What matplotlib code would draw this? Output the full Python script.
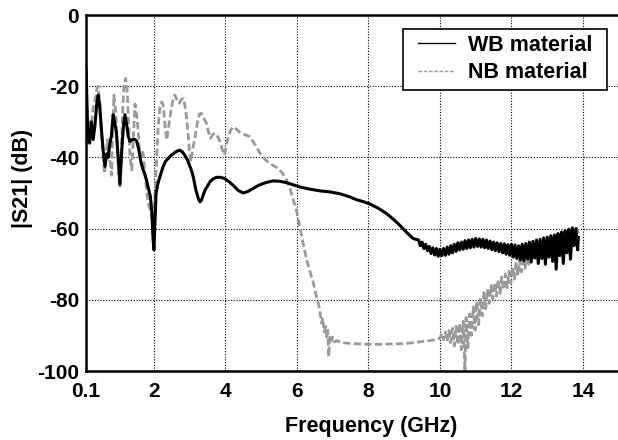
import matplotlib
matplotlib.use("Agg")
from matplotlib import pyplot as plt
from matplotlib.patches import Rectangle

plt.rcParams['font.family'] = ['Liberation Sans', 'DejaVu Sans']
plt.rcParams['font.weight'] = 'bold'
plt.rcParams['axes.unicode_minus'] = False

# WB material (black, solid)
wb_f = [0.10, 0.12, 0.15, 0.20, 0.25, 0.30, 0.35, 0.40, 0.44, 0.48, 0.53, 0.58, 0.63, 0.68, 0.72,
        0.77, 0.81, 0.86, 0.90, 0.95, 1.00, 1.05, 1.10, 1.15, 1.19, 1.24, 1.28, 1.33, 1.40, 1.47,
        1.52, 1.58, 1.64, 1.70, 1.77, 1.84, 1.90, 1.94, 1.97, 2.00, 2.03, 2.06, 2.09, 2.12, 2.18,
        2.26, 2.33, 2.40, 2.47, 2.54, 2.63, 2.73, 2.80, 2.87, 2.94, 3.01, 3.06, 3.10, 3.17, 3.24,
        3.29, 3.33, 3.38, 3.43, 3.50, 3.57, 3.66, 3.75, 3.87, 3.99, 4.10, 4.22, 4.36, 4.50, 4.64,
        4.78, 4.92, 5.06, 5.20, 5.34, 5.52, 5.71, 5.90, 6.08, 6.35, 6.64, 6.92, 7.20, 7.45, 7.67,
        7.85, 8.04, 8.28, 8.51, 8.70, 8.88, 9.06, 9.25,
        9.40, 9.45, 9.50, 9.55, 9.60, 9.65, 9.70, 9.75, 9.80, 9.85, 9.90, 9.95, 10.00, 10.05,
        10.10, 10.15, 10.20, 10.25, 10.30, 10.35, 10.40, 10.45, 10.50, 10.55, 10.60, 10.65,
        10.70, 10.75, 10.80, 10.85, 10.90, 10.95, 11.00, 11.05, 11.10, 11.15, 11.20, 11.25,
        11.30, 11.35, 11.40, 11.45, 11.50, 11.55, 11.60, 11.65, 11.70, 11.75, 11.80, 11.85,
        11.90, 11.95, 12.00, 12.05, 12.10, 12.15, 12.20, 12.25, 12.30, 12.35, 12.40, 12.45,
        12.50, 12.55, 12.60, 12.65, 12.70, 12.75, 12.80, 12.85, 12.90, 12.95, 13.00, 13.05,
        13.10, 13.15, 13.20, 13.25, 13.30, 13.35, 13.40, 13.45, 13.50, 13.55, 13.60, 13.65,
        13.70, 13.75, 13.80, 13.85, 13.87]
wb_s21 = [-15, -22, -33, -36, -30, -35, -31, -25, -22.5, -25, -32, -38, -42.5, -39, -40,
          -36, -34, -28, -30, -33, -40, -47.5, -38, -31, -28, -31, -34, -35.5, -35, -35,
          -35.5, -38, -41.5, -43.5, -45.5, -48.5, -51, -55, -62, -66, -58, -50, -48.5, -47, -45,
          -42.5, -41, -40.3, -39.5, -39, -38.3, -38, -38.5, -39.5, -40.8, -42.6, -44, -45.5, -49, -51.5,
          -52.5, -52, -50.5, -49.2, -48, -46.8, -46, -45.6, -45.6, -46, -46.8, -47.9, -49.3, -50, -49.5,
          -48.7, -47.9, -47.3, -46.9, -46.6, -46.7, -47.1, -47.7, -48.3, -48.9, -49.4, -49.7, -50.2, -51, -51.9,
          -52.4, -53.1, -54.3, -55.8, -57.4, -59.1, -61, -62.8,
          -63.2, -64.8, -63.8, -65.6, -64.4, -66.2, -65.0, -67.0, -65.4, -67.4, -65.6, -67.8, -65.8, -67.6,
          -65.6, -67.5, -65.2, -67.2, -64.8, -66.8, -64.4, -66.4, -64.0, -66.0, -63.8, -65.8,
          -63.4, -65.6, -63.2, -65.4, -63.0, -65.2, -62.8, -65.0, -62.9, -65.2, -63.0, -65.4,
          -63.2, -65.6, -63.5, -65.9, -63.8, -66.2, -64.0, -66.5, -64.2, -66.8, -64.3, -67.2,
          -64.5, -67.5, -64.4, -68.0, -64.6, -68.4, -64.8, -68.8, -64.4, -69.0, -64.2, -68.6,
          -63.8, -69.4, -63.6, -68.2, -63.2, -69.8, -63.0, -68.4, -62.6, -70.0, -62.4, -68.0,
          -62.0, -69.2, -61.8, -71.4, -61.4, -67.6, -61.0, -69.8, -60.6, -66.8, -60.2, -68.6,
          -59.8, -64.8, -60.0, -66.0, -62.5]

# NB material (grey, dashed)
nb_f = [0.10, 0.13, 0.17, 0.22, 0.26, 0.30, 0.35, 0.40, 0.44, 0.48, 0.53, 0.58, 0.62, 0.66, 0.70,
        0.74, 0.78, 0.82, 0.84, 0.88, 0.93, 0.98, 1.02, 1.05, 1.09, 1.13, 1.17, 1.21, 1.25, 1.29,
        1.33, 1.38, 1.42, 1.47, 1.52, 1.57, 1.61, 1.66, 1.70, 1.75, 1.80, 1.84, 1.90, 1.95, 1.98,
        2.02, 2.05, 2.08, 2.12, 2.17, 2.22, 2.26, 2.31, 2.36, 2.40, 2.45, 2.50, 2.55, 2.59, 2.65,
        2.71, 2.76, 2.82, 2.87, 2.91, 2.96, 3.00, 3.03, 3.08, 3.15, 3.22, 3.28, 3.33, 3.40, 3.47,
        3.53, 3.58, 3.65, 3.73, 3.80, 3.86, 3.92, 3.97, 4.02, 4.08, 4.15, 4.22, 4.30, 4.38, 4.45,
        4.57, 4.69, 4.83, 4.97, 5.10, 5.24, 5.36, 5.48, 5.60, 5.71, 5.80, 5.90, 5.99, 6.08, 6.17,
        6.27, 6.37, 6.46, 6.53, 6.60, 6.66, 6.69, 6.72, 6.76, 6.80, 6.83, 6.86, 6.89, 6.92, 6.96,
        7.00, 7.05, 7.11, 7.25, 7.50, 7.76, 8.00, 8.30, 8.69, 9.00, 9.20, 9.44, 9.70, 9.85, 10.00,
        10.05, 10.10, 10.15, 10.20, 10.25, 10.30, 10.35, 10.40, 10.45, 10.50, 10.55, 10.60, 10.65,
        10.70, 10.73, 10.78, 10.83, 10.88, 10.93, 10.98, 11.03, 11.08, 11.13, 11.18, 11.23, 11.28,
        11.33, 11.38, 11.43, 11.48, 11.53, 11.58, 11.63, 11.68, 11.73, 11.78, 11.83, 11.88, 11.93,
        11.98, 12.03, 12.08, 12.13, 12.18, 12.23, 12.28, 12.33, 12.38, 12.43, 12.48, 12.53, 12.58,
        12.63, 12.68, 12.73, 12.78, 12.83, 12.88, 12.93, 12.98, 13.03, 13.08, 13.13, 13.18, 13.23,
        13.28, 13.33, 13.38, 13.43, 13.48, 13.53, 13.58, 13.63, 13.68, 13.73, 13.78, 13.83, 13.88]
nb_s21 = [-32, -36, -30, -34, -30, -26, -24, -21, -20, -24, -33, -40, -44.5, -40, -35,
          -38, -42, -45, -34, -22.5, -27, -38, -46, -48.7, -38, -26, -19, -17.8, -21, -30,
          -40, -43.5, -35, -25, -28, -34, -39.8, -38, -39, -45, -50, -53, -55, -57, -58,
          -52, -46, -40, -31, -25.8, -24.4, -25.5, -31, -35.1, -32, -28.6, -25.5, -23, -22.5, -24,
          -24.8, -23.8, -23.4, -25.5, -28.6, -34, -39, -41.2, -38, -34.2, -30, -27.8, -27.6, -29, -30.4,
          -33, -34.6, -33.5, -33.2, -34.5, -36, -38, -39.3, -37, -34.2, -32.3, -31.4, -32, -32.8, -33.2,
          -33.7, -34.2, -36.5, -38.9, -40.5, -41.7, -42.4, -43.1, -44.5, -46.3, -48.5, -52, -55, -59.5, -64,
          -68.8, -72.3, -75.4, -78.5, -81, -84.5, -86.6, -85, -89, -87.5, -90.4, -88.5, -96, -90, -91.5,
          -90.5, -91.8, -91.5, -92, -92.3, -92.4, -92.5, -92.5, -92.4, -92.3, -92.1, -91.8, -91.5, -91.2, -90.8,
          -89.4, -91.2, -89.0, -91.6, -88.6, -92.0, -88.0, -93.0, -87.4, -92.6, -86.6, -94.0, -86.0,
          -100.5, -85.0, -93.5, -84.0, -90.0, -82.0, -88.5, -80.5, -87.0, -79.5, -84.5, -78.0, -82.5,
          -77.0, -81.0, -76.0, -79.8, -75.2, -79.0, -74.4, -78.2, -73.6, -77.2, -72.8, -76.6, -72.0,
          -75.4, -70.8, -74.2, -69.8, -73.2, -68.8, -72.2, -67.8, -71.2, -67.0, -70.0, -66.0, -69.0,
          -65.4, -68.4, -64.6, -67.8, -64.0, -67.0, -63.4, -66.2, -62.8, -65.6, -62.4, -65.0, -62.0,
          -64.4, -61.6, -64.0, -61.2, -63.6, -60.8, -63.0, -60.4, -62.6, -60.2, -62.2, -60.0, -61.5]

xticks = [0.1, 2, 4, 6, 8, 10, 12, 14]
xtick_labels = ["0.1", "2", "4", "6", "8", "10", "12", "14"]
yticks = [-100, -80, -60, -40, -20, 0]

W, H = 618, 440
fig = plt.figure(figsize=(W/100, H/100), dpi=100)
ax = fig.add_axes([86/W, 1-371/H, (654.5-86)/W, (371-15)/H])

ax.plot(nb_f, nb_s21, color="#9a9a9a", lw=2.0, dashes=(2.6, 1.2), label="NB material", zorder=2)
ax.plot(wb_f, wb_s21, color="black", lw=2.2, label="WB material", zorder=3)

ax.set_xlim(0.1, 16)
ax.set_ylim(-100, 0)
ax.set_xticks(xticks)
ax.set_xticklabels(xtick_labels)
ax.set_yticks(yticks)
ax.tick_params(length=0, labelsize=15)
ax.tick_params(axis='x', pad=8)
ax.tick_params(axis='y', pad=5)
for lab in ax.get_xticklabels() + ax.get_yticklabels():
    lab.set_fontweight('bold')
ax.grid(True, color="black", ls=(0, (1, 1.5)), lw=0.8)
for s in ax.spines.values():
    s.set_linewidth(1.8)
ax.spines['right'].set_visible(False)

ax.set_xlabel("Frequency (GHz)", fontsize=15.5, fontweight='bold')
ax.set_ylabel("|S21| (dB)", fontsize=15.5, fontweight='bold')
ax.xaxis.set_label_coords((371-86)/(654.5-86), -(416-371)/356)
ax.yaxis.set_label_coords(-(86-33)/568.5, (371-178)/356)

# legend: frame drawn separately so horizontal padding can exceed vertical
ax.add_patch(Rectangle((403/W, 1-90/H), 204/W, 61/H, transform=fig.transFigure,
                       facecolor="white", edgecolor="black", lw=1.2, zorder=4, clip_on=False))
handles, labels = ax.get_legend_handles_labels()
leg = ax.legend(handles[::-1], labels[::-1], loc='upper left',
                bbox_to_anchor=(418/W, 1-35/H), bbox_transform=fig.transFigure,
                borderaxespad=0, borderpad=0, frameon=False,
                fontsize=15.5, handlelength=1.72, handletextpad=0.6,
                labelspacing=0.3)
leg.set_zorder(5)
for line in leg.get_lines():
    line.set_linewidth(1.0)

plt.savefig("out.png", dpi=100)
